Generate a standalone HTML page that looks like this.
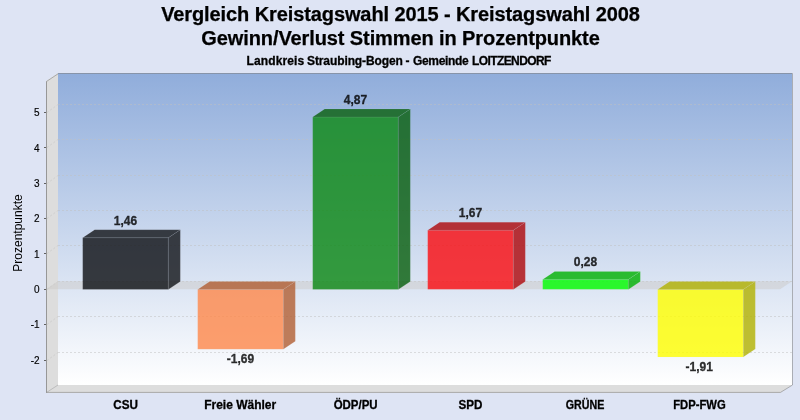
<!DOCTYPE html>
<html><head><meta charset="utf-8"><title>Vergleich Kreistagswahl</title>
<style>
html,body{margin:0;padding:0;background:#dee4f4;}
body{width:800px;height:420px;overflow:hidden;}
svg{display:block;font-family:"Liberation Sans",sans-serif;}
.t{font-weight:bold;font-size:20px;fill:#000;stroke:#000;stroke-width:0.25px;text-anchor:middle;letter-spacing:-0.1px;}
.s{font-weight:bold;font-size:12px;fill:#000;stroke:#000;stroke-width:0.3px;text-anchor:middle;}
.c{font-weight:bold;font-size:12px;fill:#000;stroke:#000;stroke-width:0.3px;text-anchor:middle;}
.v{font-weight:bold;font-size:12px;fill:#000;fill-opacity:0.8;stroke:#000;stroke-opacity:0.8;stroke-width:0.3px;text-anchor:middle;}
.k{font-size:10px;fill:#000;stroke:#000;stroke-width:0.15px;text-anchor:end;}
.a{font-size:12px;fill:#000;text-anchor:middle;}
</style></head><body>
<svg width="800" height="420" viewBox="0 0 800 420">
<defs><linearGradient id="g" x1="0" y1="0" x2="0" y2="1"><stop offset="0" stop-color="#90addb"/><stop offset="1" stop-color="#ffffff"/></linearGradient></defs>
<rect width="800" height="420" fill="#dee4f4"/>
<rect x="58.0" y="73.0" width="734.0" height="312.0" fill="url(#g)"/>
<polygon points="46.0,81.0 58.0,73.0 58.0,385.0 46.0,393.0" fill="#dddddd"/>
<polygon points="46.0,393.0 58.0,385.0 792.0,385.0 780.0,393.0" fill="#dddddd"/>
<path d="M46.5 392.5L58.0 385.0" fill="none" stroke="#bcbcbc" stroke-width="1"/>
<path d="M47.0 360.5L58.0 352.5" fill="none" stroke="#c0c0c0" stroke-opacity="0.5" stroke-width="1" stroke-dasharray="2 2"/>
<path d="M58.0 352.5H792.0" fill="none" stroke="#c0c0c0" stroke-opacity="0.5" stroke-width="1" stroke-dasharray="2 2"/>
<path d="M47.0 324.5L58.0 316.5" fill="none" stroke="#c0c0c0" stroke-opacity="0.5" stroke-width="1" stroke-dasharray="2 2"/>
<path d="M58.0 316.5H792.0" fill="none" stroke="#c0c0c0" stroke-opacity="0.5" stroke-width="1" stroke-dasharray="2 2"/>
<path d="M47.0 289.5L58.0 281.5" fill="none" stroke="#c0c0c0" stroke-opacity="0.5" stroke-width="1" stroke-dasharray="2 2"/>
<path d="M58.0 281.5H792.0" fill="none" stroke="#c0c0c0" stroke-opacity="0.5" stroke-width="1" stroke-dasharray="2 2"/>
<path d="M47.0 253.5L58.0 245.5" fill="none" stroke="#c0c0c0" stroke-opacity="0.5" stroke-width="1" stroke-dasharray="2 2"/>
<path d="M58.0 245.5H792.0" fill="none" stroke="#c0c0c0" stroke-opacity="0.5" stroke-width="1" stroke-dasharray="2 2"/>
<path d="M47.0 218.5L58.0 210.5" fill="none" stroke="#c0c0c0" stroke-opacity="0.5" stroke-width="1" stroke-dasharray="2 2"/>
<path d="M58.0 210.5H792.0" fill="none" stroke="#c0c0c0" stroke-opacity="0.5" stroke-width="1" stroke-dasharray="2 2"/>
<path d="M47.0 183.5L58.0 175.5" fill="none" stroke="#c0c0c0" stroke-opacity="0.5" stroke-width="1" stroke-dasharray="2 2"/>
<path d="M58.0 175.5H792.0" fill="none" stroke="#c0c0c0" stroke-opacity="0.5" stroke-width="1" stroke-dasharray="2 2"/>
<path d="M47.0 147.5L58.0 139.5" fill="none" stroke="#c0c0c0" stroke-opacity="0.5" stroke-width="1" stroke-dasharray="2 2"/>
<path d="M58.0 139.5H792.0" fill="none" stroke="#c0c0c0" stroke-opacity="0.5" stroke-width="1" stroke-dasharray="2 2"/>
<path d="M47.0 112.5L58.0 104.5" fill="none" stroke="#c0c0c0" stroke-opacity="0.5" stroke-width="1" stroke-dasharray="2 2"/>
<path d="M58.0 104.5H792.0" fill="none" stroke="#c0c0c0" stroke-opacity="0.5" stroke-width="1" stroke-dasharray="2 2"/>
<polygon points="46.0,289.35 58.0,281.35 792.0,281.35 780.0,289.35" fill="#cbc9c8" fill-opacity="0.5"/>
<path d="M46.5 81.5L58.5 73.5H792.5V385.0L780.5 392.4H46.5Z" fill="none" stroke="#808080" stroke-opacity="0.55" stroke-width="1"/>
<path d="M46.5 81.5V393.0" fill="none" stroke="#808080" stroke-opacity="0.45" stroke-width="1"/>
<g opacity="0.8" stroke="#e0e0e0" stroke-opacity="0.16" stroke-width="0.6" stroke-linejoin="round">
<rect x="82.7" y="237.7" width="85.6" height="51.7" fill="#0c0e12"/>
<polygon points="168.3,237.7 180.3,229.7 180.3,281.4 168.3,289.4" fill="#111317"/>
<polygon points="82.7,237.7 94.7,229.7 180.3,229.7 168.3,237.7" fill="#111317"/>
</g>
<text class="v" x="125.5" y="225.0">1,46</text>
<text class="c" transform="translate(125.6,409) scale(0.975,1)">CSU</text>
<g opacity="0.8" stroke="#e0e0e0" stroke-opacity="0.16" stroke-width="0.6" stroke-linejoin="round">
<rect x="197.7" y="289.4" width="85.6" height="59.8" fill="#ff884a"/>
<polygon points="283.3,289.4 295.3,281.4 295.3,341.2 283.3,349.2" fill="#b25f33"/>
<polygon points="197.7,289.4 209.7,281.4 295.3,281.4 283.3,289.4" fill="#b25f33"/>
</g>
<text class="v" x="240.5" y="363.0">-1,69</text>
<text class="c" transform="translate(240.2,409) scale(1,1)">Freie Wähler</text>
<g opacity="0.8" stroke="#e0e0e0" stroke-opacity="0.16" stroke-width="0.6" stroke-linejoin="round">
<rect x="312.7" y="117.0" width="85.6" height="172.4" fill="#0a8812"/>
<polygon points="398.3,117.0 410.3,109.0 410.3,281.4 398.3,289.4" fill="#075f0c"/>
<polygon points="312.7,117.0 324.7,109.0 410.3,109.0 398.3,117.0" fill="#075f0c"/>
</g>
<text class="v" x="355.5" y="104.0">4,87</text>
<text class="c" transform="translate(355.6,409) scale(0.956,1)">ÖDP/PU</text>
<g opacity="0.8" stroke="#e0e0e0" stroke-opacity="0.16" stroke-width="0.6" stroke-linejoin="round">
<rect x="427.7" y="230.2" width="85.6" height="59.1" fill="#fb0b0f"/>
<polygon points="513.3,230.2 525.3,222.2 525.3,281.4 513.3,289.4" fill="#af070a"/>
<polygon points="427.7,230.2 439.7,222.2 525.3,222.2 513.3,230.2" fill="#af070a"/>
</g>
<text class="v" x="470.5" y="217.0">1,67</text>
<text class="c" transform="translate(470.4,409) scale(0.97,1)">SPD</text>
<g opacity="0.8" stroke="#e0e0e0" stroke-opacity="0.16" stroke-width="0.6" stroke-linejoin="round">
<rect x="542.7" y="279.4" width="85.6" height="9.9" fill="#00ff00"/>
<polygon points="628.3,279.4 640.3,271.4 640.3,281.4 628.3,289.4" fill="#00b200"/>
<polygon points="542.7,279.4 554.7,271.4 640.3,271.4 628.3,279.4" fill="#00b200"/>
</g>
<text class="v" x="585.5" y="266.0">0,28</text>
<text class="c" transform="translate(585.0,409) scale(0.89,1)">GRÜNE</text>
<g opacity="0.8" stroke="#e0e0e0" stroke-opacity="0.16" stroke-width="0.6" stroke-linejoin="round">
<rect x="657.7" y="289.4" width="85.6" height="67.6" fill="#ffff00"/>
<polygon points="743.3,289.4 755.3,281.4 755.3,349.0 743.3,357.0" fill="#b2b200"/>
<polygon points="657.7,289.4 669.7,281.4 755.3,281.4 743.3,289.4" fill="#b2b200"/>
</g>
<text class="v" x="699.2" y="371.0">-1,91</text>
<text class="c" transform="translate(699.4,409) scale(0.938,1)">FDP-FWG</text>
<path d="M44.0 360.5H46.0" stroke="#606060" stroke-width="1"/>
<text class="k" x="39.6" y="364">-2</text>
<path d="M44.0 324.5H46.0" stroke="#606060" stroke-width="1"/>
<text class="k" x="39.6" y="328">-1</text>
<path d="M44.0 289.5H46.0" stroke="#606060" stroke-width="1"/>
<text class="k" x="39.6" y="293">0</text>
<path d="M44.0 253.5H46.0" stroke="#606060" stroke-width="1"/>
<text class="k" x="39.6" y="258">1</text>
<path d="M44.0 218.5H46.0" stroke="#606060" stroke-width="1"/>
<text class="k" x="39.6" y="222">2</text>
<path d="M44.0 183.5H46.0" stroke="#606060" stroke-width="1"/>
<text class="k" x="39.6" y="187">3</text>
<path d="M44.0 147.5H46.0" stroke="#606060" stroke-width="1"/>
<text class="k" x="39.6" y="152">4</text>
<path d="M44.0 112.5H46.0" stroke="#606060" stroke-width="1"/>
<text class="k" x="39.6" y="116">5</text>
<text class="a" transform="translate(22.2,233) rotate(-90)">Prozentpunkte</text>
<text class="t" x="400.5" y="20.6">Vergleich Kreistagswahl 2015 - Kreistagswahl 2008</text>
<text class="t" x="400.5" y="45.2">Gewinn/Verlust Stimmen in Prozentpunkte</text>
<text class="s" y="65" style="text-anchor:start"><tspan x="246.6" letter-spacing="0.12">Landkreis </tspan><tspan x="307" letter-spacing="-0.1">Straubing-Bogen </tspan><tspan x="405.4">- </tspan><tspan x="413" letter-spacing="-0.34">Gemeinde </tspan><tspan x="472" letter-spacing="-0.6">LOITZENDORF</tspan></text>
</svg></body></html>
